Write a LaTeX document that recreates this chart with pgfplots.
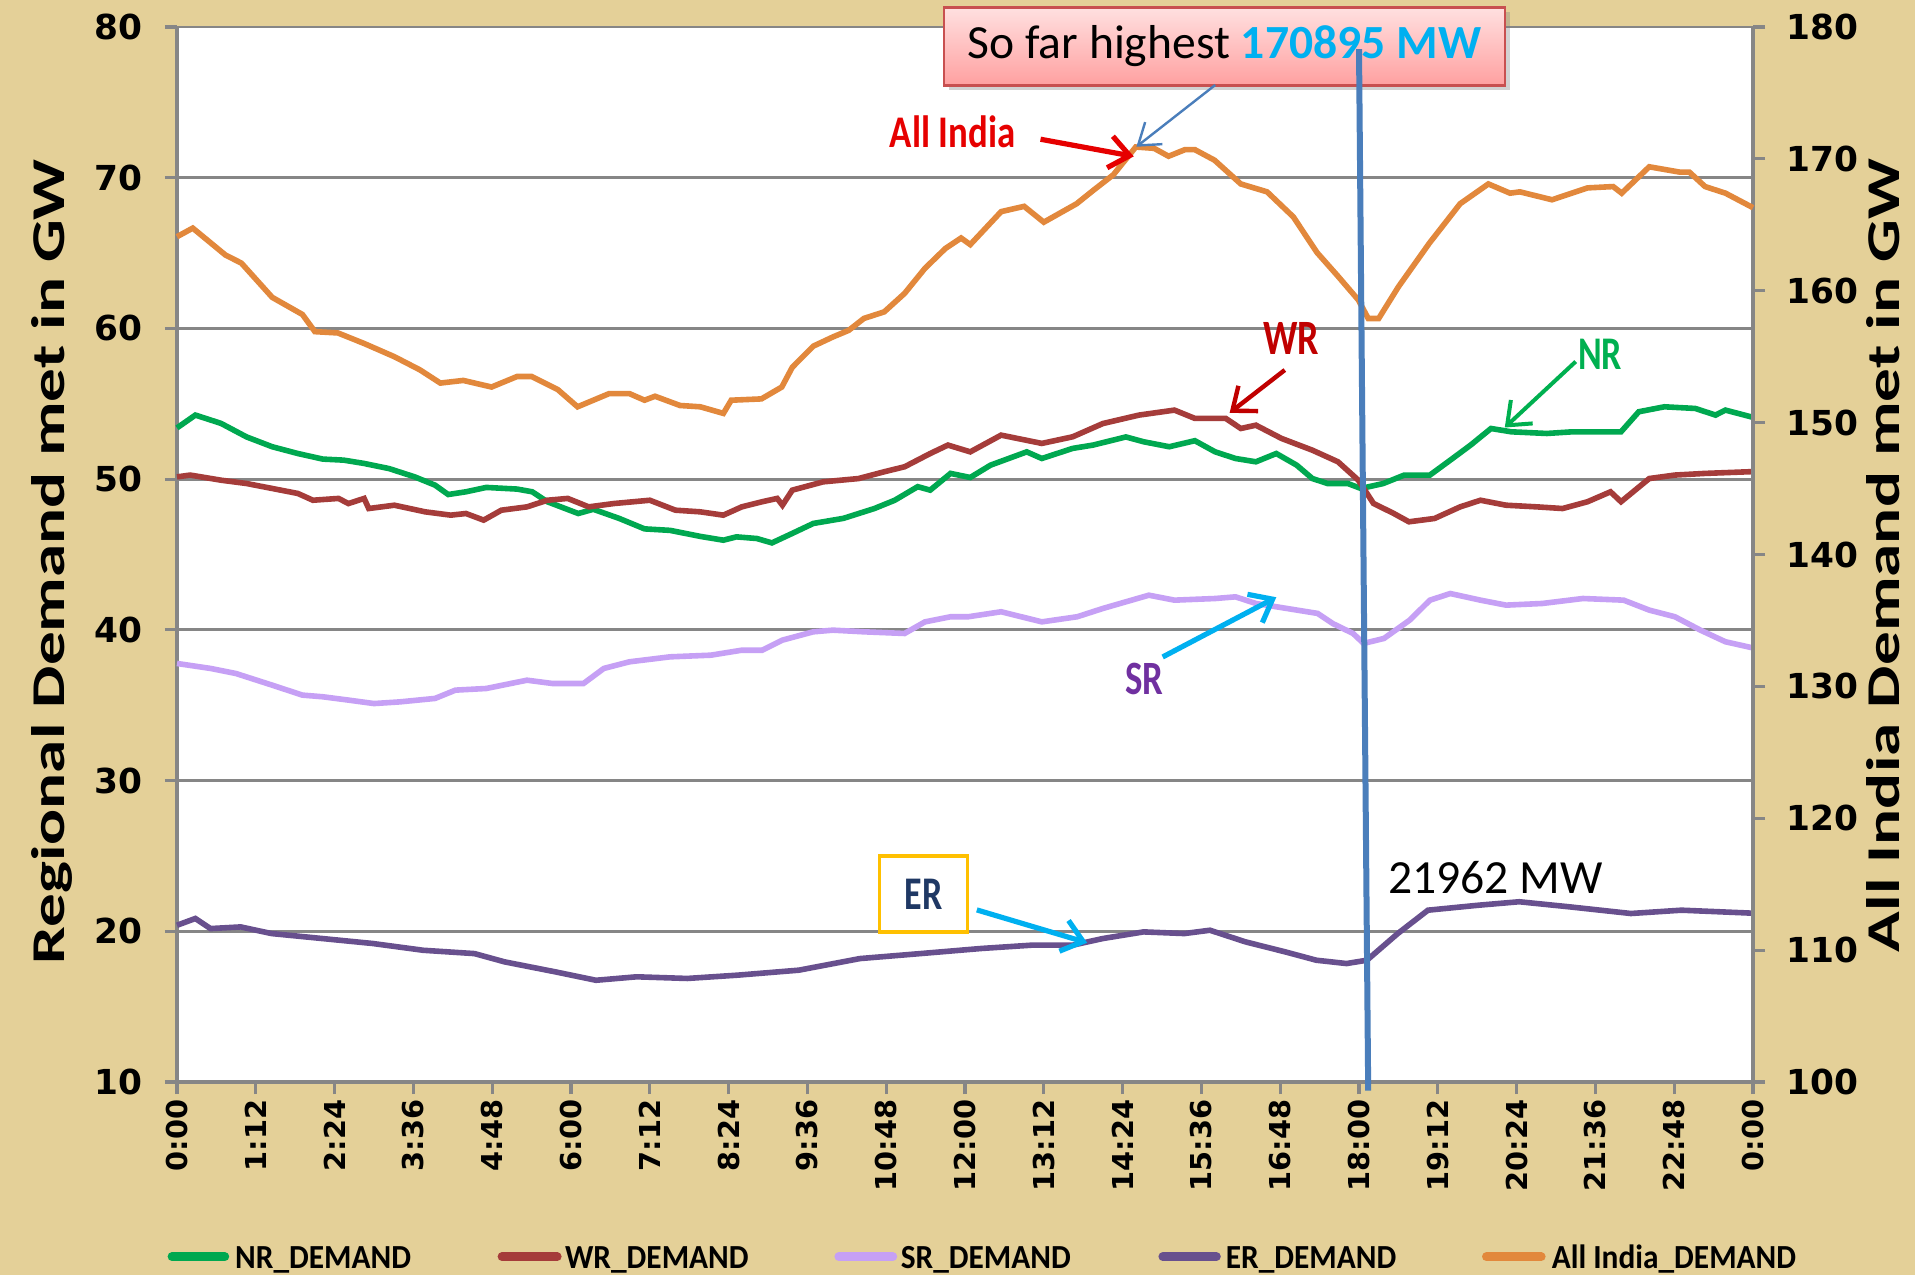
\documentclass[border=0pt]{standalone}
\usepackage{pgfplots}
\pgfplotsset{compat=1.18}
\usepackage{fontspec}
\usepackage{graphicx}
\setmainfont{Carlito}
\newfontfamily\tickfont{DejaVu Sans}
\usetikzlibrary{arrows.meta,shadows}
\definecolor{parch}{RGB}{228,208,152}
\definecolor{nrc}{RGB}{0,168,80}
\definecolor{wrc}{RGB}{165,60,58}
\definecolor{src}{RGB}{198,160,245}
\definecolor{erc}{RGB}{104,80,142}
\definecolor{aic}{RGB}{226,136,60}
\definecolor{gridc}{RGB}{134,134,134}
\definecolor{vline}{RGB}{74,126,187}
\definecolor{cyanc}{RGB}{0,176,240}
\definecolor{darkred}{RGB}{192,0,0}
\definecolor{grn}{RGB}{0,176,80}
\definecolor{purp}{RGB}{112,48,160}
\definecolor{navy}{RGB}{31,56,100}
\definecolor{ybox}{RGB}{255,192,0}
\definecolor{pinktop}{RGB}{255,224,224}
\definecolor{pinkbot}{RGB}{255,160,160}
\definecolor{pinkborder}{RGB}{200,80,80}
\definecolor{redlab}{RGB}{230,0,0}

\pgfplotsset{myaxis/.style={
  at={(44.25pt,48.25pt)}, anchor=south west,
  scale only axis, width=394pt, height=263.75pt,
  xmin=0, xmax=24,
  axis line style={gridc, line width=0.8pt},
  tick style={gridc, line width=0.8pt},
  tick align=outside,
  major tick length=3pt,
  /pgf/number format/assume math mode=true,
  clip=false,
}}

\begin{document}
\begin{tikzpicture}
\useasboundingbox (0,0) rectangle (478.75pt,318.75pt);
\fill[parch] (0,0) rectangle (478.75pt,318.75pt);

\begin{axis}[myaxis,
  axis background/.style={fill=white},
  ymin=10, ymax=80, ytick={10,20,...,80},
  axis x line*=bottom, axis y line*=left,
  xtick={0,1.2,2.4,3.6,4.8,6,7.2,8.4,9.6,10.8,12,13.2,14.4,15.6,16.8,18,19.2,20.4,21.6,22.8,24},
  xticklabels={0:00,1:12,2:24,3:36,4:48,6:00,7:12,8:24,9:36,10:48,12:00,13:12,14:24,15:36,16:48,18:00,19:12,20:24,21:36,22:48,0:00},
  xticklabel style={font=\tickfont\bfseries\fontsize{7.2}{8}\selectfont, yshift=-1.25pt, rotate=90, anchor=east, inner sep=0pt},
  yticklabel style={font=\tickfont\bfseries\fontsize{8.6}{10}\selectfont, anchor=east, inner sep=0pt, xshift=-5.5pt},
  ymajorgrids, grid style={gridc, line width=0.7pt},
  ylabel={\scalebox{1.43}[1]{Regional Demand met in GW}},
  every axis y label/.style={at={(axis description cs:-0.0794,0.493)}, rotate=90, anchor=center, font=\bfseries\fontsize{11.75}{14}\selectfont},
]
\addplot[nrc, line width=1.4pt] coordinates {(0,53.4) (0.28,54.25) (0.67,53.7) (1.06,52.8) (1.45,52.15) (1.84,51.7) (2.22,51.33) (2.54,51.26) (2.85,51.04) (3.23,50.7) (3.62,50.15) (3.93,49.6) (4.13,48.98) (4.4,49.16) (4.71,49.45) (5.18,49.34) (5.41,49.16) (5.64,48.5) (6.11,47.72) (6.34,48.0) (6.73,47.4) (7.12,46.7) (7.51,46.6) (7.97,46.2) (8.32,45.95) (8.52,46.17) (8.83,46.06) (9.06,45.77) (9.37,46.4) (9.69,47.06) (10.15,47.4) (10.62,48.05) (10.93,48.6) (11.28,49.5) (11.47,49.27) (11.78,50.38) (12.08,50.11) (12.39,50.93) (12.94,51.81) (13.17,51.37) (13.64,52.04) (13.95,52.26) (14.45,52.8) (14.72,52.48) (15.11,52.15) (15.5,52.55) (15.81,51.81) (16.12,51.37) (16.43,51.15) (16.74,51.7) (17.05,50.93) (17.29,50.04) (17.52,49.71) (17.83,49.71) (18.03,49.38) (18.37,49.71) (18.69,50.27) (19.08,50.27) (19.39,51.26) (19.7,52.26) (20.01,53.36) (20.32,53.14) (20.86,53.03) (21.25,53.14) (21.72,53.14) (21.99,53.14) (22.26,54.47) (22.65,54.8) (23.12,54.69) (23.43,54.25) (23.58,54.58) (24,54.1)};
\addplot[wrc, line width=1.4pt] coordinates {(0,50.15) (0.2,50.27) (0.67,49.93) (1.06,49.71) (1.45,49.38) (1.84,49.05) (2.07,48.6) (2.46,48.72) (2.61,48.38) (2.85,48.72) (2.92,48.05) (3.31,48.27) (3.78,47.83) (4.17,47.61) (4.4,47.72) (4.67,47.28) (4.94,47.94) (5.33,48.16) (5.64,48.6) (5.95,48.72) (6.27,48.16) (6.65,48.38) (7.2,48.6) (7.59,47.94) (7.97,47.83) (8.32,47.61) (8.6,48.16) (8.91,48.5) (9.14,48.72) (9.22,48.27) (9.37,49.27) (9.84,49.82) (10.38,50.04) (10.77,50.49) (11.08,50.82) (11.47,51.7) (11.74,52.26) (12.08,51.81) (12.55,52.92) (13.17,52.37) (13.64,52.81) (14.1,53.69) (14.65,54.25) (15.19,54.58) (15.5,54.03) (15.97,54.03) (16.2,53.36) (16.43,53.58) (16.82,52.7) (17.29,51.92) (17.68,51.15) (17.99,49.93) (18.22,48.39) (18.53,47.72) (18.76,47.17) (19.15,47.39) (19.54,48.16) (19.85,48.6) (20.24,48.27) (20.71,48.16) (21.1,48.05) (21.48,48.5) (21.83,49.16) (21.99,48.5) (22.42,50.04) (22.81,50.27) (23.27,50.38) (24,50.5)};
\addplot[src, line width=1.4pt] coordinates {(0,37.77) (0.51,37.44) (0.9,37.1) (1.45,36.33) (1.91,35.67) (2.22,35.56) (2.61,35.34) (3.0,35.11) (3.39,35.22) (3.93,35.45) (4.24,36.0) (4.71,36.11) (5.33,36.66) (5.72,36.44) (6.19,36.44) (6.5,37.44) (6.89,37.88) (7.51,38.21) (8.13,38.32) (8.6,38.65) (8.91,38.65) (9.22,39.32) (9.69,39.87) (9.99,39.98) (10.46,39.87) (11.08,39.76) (11.39,40.53) (11.78,40.87) (12.05,40.87) (12.55,41.2) (13.17,40.53) (13.71,40.87) (14.1,41.42) (14.8,42.3) (15.19,41.97) (15.81,42.08) (16.12,42.19) (16.43,41.75) (16.9,41.42) (17.37,41.09) (17.6,40.42) (17.91,39.76) (18.07,39.1) (18.38,39.43) (18.77,40.64) (19.08,41.97) (19.39,42.41) (19.85,41.97) (20.24,41.64) (20.79,41.75) (21.41,42.08) (22.03,41.97) (22.42,41.31) (22.81,40.87) (23.2,39.98) (23.58,39.21) (24,38.8)};
\addplot[erc, line width=1.4pt] coordinates {(0,20.4) (0.28,20.85) (0.51,20.18) (0.97,20.29) (1.44,19.85) (2.21,19.52) (2.98,19.19) (3.75,18.74) (4.53,18.52) (4.99,17.97) (5.76,17.31) (6.38,16.75) (7.0,16.98) (7.77,16.87) (8.54,17.09) (9.47,17.42) (10.4,18.19) (11.32,18.52) (12.25,18.86) (13.02,19.08) (13.64,19.08) (14.1,19.52) (14.72,19.96) (15.34,19.85) (15.73,20.07) (16.27,19.3) (16.88,18.63) (17.35,18.08) (17.81,17.86) (18.12,18.08) (18.59,19.85) (19.05,21.4) (19.82,21.73) (20.44,21.96) (21.21,21.62) (22.14,21.18) (22.91,21.4) (24,21.2)};
\end{axis}

\begin{axis}[myaxis,
  ymin=100, ymax=180, ytick={100,110,...,180},
  axis y line*=right, axis x line=none, xtick=\empty,
  yticklabel style={font=\tickfont\bfseries\fontsize{8.6}{10}\selectfont, anchor=west, inner sep=0pt, xshift=5.25pt},
  ylabel={\scalebox{1.43}[1]{All India Demand met in GW}},
  every axis y label/.style={at={(axis description cs:1.0825,0.499)}, rotate=90, anchor=center, font=\bfseries\fontsize{11.75}{14}\selectfont},
]
\addplot[aic, line width=1.4pt] coordinates {(0,164.1) (0.24,164.75) (0.74,162.7) (0.98,162.1) (1.45,159.5) (1.91,158.2) (2.1,156.9) (2.45,156.8) (2.85,156.0) (3.31,155.0) (3.7,154.0) (4.01,153.0) (4.36,153.2) (4.79,152.7) (5.18,153.5) (5.4,153.5) (5.8,152.5) (6.1,151.2) (6.58,152.2) (6.89,152.2) (7.12,151.7) (7.28,152.0) (7.66,151.3) (7.97,151.2) (8.32,150.7) (8.44,151.7) (8.9,151.8) (9.21,152.7) (9.37,154.2) (9.69,155.8) (9.99,156.5) (10.23,157.0) (10.46,157.9) (10.77,158.4) (11.08,159.8) (11.39,161.7) (11.7,163.2) (11.94,164.0) (12.08,163.5) (12.55,166.0) (12.9,166.4) (13.2,165.2) (13.7,166.6) (13.95,167.6) (14.26,168.8) (14.6,170.9) (14.88,170.8) (15.1,170.2) (15.35,170.7) (15.5,170.7) (15.8,169.9) (16.2,168.1) (16.6,167.5) (17.0,165.6) (17.36,162.9) (17.68,161.1) (17.99,159.3) (18.14,157.9) (18.3,157.9) (18.6,160.3) (19.07,163.6) (19.54,166.6) (19.97,168.1) (20.3,167.4) (20.45,167.5) (20.94,166.9) (21.48,167.8) (21.87,167.9) (22.0,167.4) (22.42,169.4) (22.88,169.0) (23.03,169.0) (23.27,167.9) (23.58,167.4) (24,166.3)};
% callout
\node[draw=pinkborder, line width=0.6pt, top color=pinktop, bottom color=pinkbot, minimum width=140.25pt, minimum height=19.55pt, inner sep=0pt, drop shadow={shadow xshift=1.2pt, shadow yshift=-1.2pt, opacity=0.35}] at (axis cs:15.95,178.52) {\fontsize{11.9}{14}\selectfont So far highest \textcolor{cyanc}{\bfseries 170895 MW}};
\draw[vline, line width=1.5pt] (axis cs:18.0,178.33) -- (axis cs:18.14,99.35);
\draw[vline, line width=0.6pt, -{Straight Barb[length=5pt,width=7pt]}] (axis cs:15.81,175.6) -- (axis cs:14.61,170.92);
% All India
\node[text=redlab, font=\bfseries\fontsize{9.2}{11}\selectfont, inner sep=0pt] at (axis cs:11.81,172.04) {\scalebox{1}[1.23]{All India}};
\draw[redlab, line width=1.3pt, -{Straight Barb[length=5pt,width=8pt]}] (axis cs:13.15,171.49) -- (axis cs:14.57,170.19);
% WR
\node[text=darkred, font=\bfseries\fontsize{9.5}{11}\selectfont, inner sep=0pt] at (axis cs:16.97,156.39) {\scalebox{1}[1.3]{WR}};
\draw[darkred, line width=1.1pt, -{Straight Barb[length=5pt,width=8pt]}] (axis cs:16.87,153.99) -- (axis cs:16.03,150.74);
% NR
\node[text=grn, font=\bfseries\fontsize{9}{11}\selectfont, inner sep=0pt] at (axis cs:21.67,155.19) {\scalebox{1}[1.3]{NR}};
\draw[grn, line width=1pt, -{Straight Barb[length=5pt,width=8pt]}] (axis cs:21.30,154.63) -- (axis cs:20.22,149.63);
% SR
\node[text=purp, font=\bfseries\fontsize{9.2}{11}\selectfont, inner sep=0pt] at (axis cs:14.73,130.56) {\scalebox{1}[1.3]{SR}};
\draw[cyanc, line width=1.3pt, -{Straight Barb[length=5pt,width=8pt]}] (axis cs:15.01,132.23) -- (axis cs:16.74,136.76);
% ER
\node[draw=ybox, line width=0.9pt, fill=white, minimum width=22pt, minimum height=18.9pt, inner sep=0pt, text=navy, font=\bfseries\fontsize{9}{11}\selectfont] at (axis cs:11.37,114.26) {\scalebox{1}[1.3]{ER}};
\draw[cyanc, line width=1.3pt, -{Straight Barb[length=5pt,width=8pt]}] (axis cs:12.18,113.05) -- (axis cs:13.86,110.56);
% 21962 MW
\node[font=\fontsize{11.9}{14}\selectfont, inner sep=0pt] at (axis cs:20.08,115.47) {21962 MW};
\end{axis}

% legend
\begin{scope}[every node/.style={anchor=base west, inner sep=0pt, font=\bfseries\fontsize{8.43}{10}\selectfont}]
\draw[nrc, line width=2.2pt, line cap=round] (43.0pt,4.58pt) -- (56.2pt,4.58pt);
\node at (58.6pt,1.7pt) {\scalebox{0.93}[1]{NR\_DEMAND}};
\draw[wrc, line width=2.2pt, line cap=round] (125.5pt,4.58pt) -- (139.3pt,4.58pt);
\node at (141.05pt,1.7pt) {\scalebox{0.93}[1]{WR\_DEMAND}};
\draw[src, line width=2.2pt, line cap=round] (209.7pt,4.58pt) -- (223.2pt,4.58pt);
\node at (225pt,1.7pt) {\scalebox{0.93}[1]{SR\_DEMAND}};
\draw[erc, line width=2.2pt, line cap=round] (290.7pt,4.58pt) -- (304.1pt,4.58pt);
\node at (306.25pt,1.7pt) {\scalebox{0.93}[1]{ER\_DEMAND}};
\draw[aic, line width=2.2pt, line cap=round] (371.6pt,4.58pt) -- (385.3pt,4.58pt);
\node at (387.75pt,1.7pt) {\scalebox{0.93}[1]{All India\_DEMAND}};
\end{scope}
\end{tikzpicture}
\end{document}
